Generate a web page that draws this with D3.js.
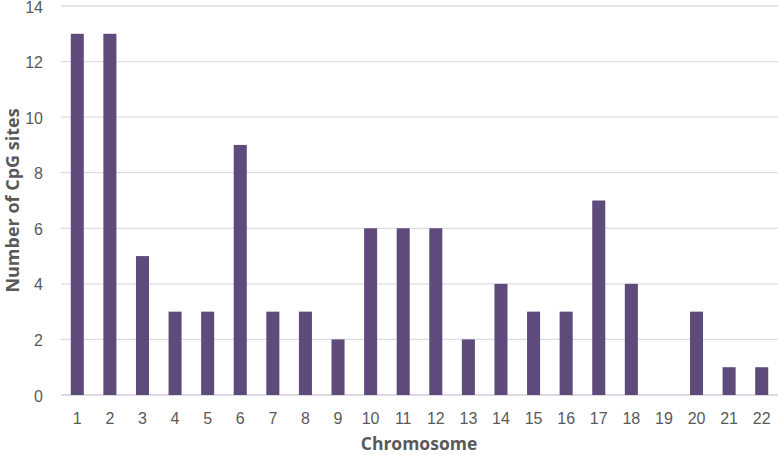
<!DOCTYPE html>
<html><head><meta charset="utf-8">
<script src="https://cdn.jsdelivr.net/npm/d3@7"></script>
<style>body{margin:0;background:#fff;} svg{display:block;font-family:"Open Sans",Lato,sans-serif;}</style>
</head><body><div id="chart"></div>
<script>
const chromosomes = ["1","2","3","4","5","6","7","8","9","10","11","12","13","14","15","16","17","18","19","20","21","22"];
const cpgSites = [13,13,5,3,3,9,3,3,2,6,6,6,2,4,3,3,7,4,0,3,1,1];
const yTicks = [0,2,4,6,8,10,12,14];

const W = 778, H = 455;
const m = {left:61, right:0, top:6, bottom:60};
const svg = d3.select("#chart").append("svg").attr("width",W).attr("height",H);
const x = d3.scaleBand().domain(chromosomes).range([m.left, W-m.right]).paddingInner(0.6).paddingOuter(0.3);
const y = d3.scaleLinear().domain([0,14]).range([H-m.bottom, m.top]);

// gridlines
svg.append("g").selectAll("line").data(yTicks).join("line")
  .attr("x1",m.left).attr("x2",W-m.right)
  .attr("y1",d=>y(d)).attr("y2",d=>y(d))
  .attr("stroke",d=>d===0?"#cfcfdc":"#dcdce4").attr("stroke-width",1.3);

// y labels
const yAxis = d3.axisLeft(y).tickValues(yTicks).tickSize(0).tickPadding(0);
const gy = svg.append("g").attr("transform",`translate(${m.left-18},1)`).call(yAxis);
gy.select(".domain").remove();
gy.selectAll("text").attr("fill","#595959").style("font-size","16px");

// bars
svg.append("g").selectAll("rect").data(cpgSites).join("rect")
  .attr("x",(d,i)=>x(chromosomes[i])).attr("width",x.bandwidth())
  .attr("y",d=>y(d)).attr("height",d=>y(0)-y(d))
  .attr("fill","#5f4a7c");

// x labels
const xAxis = d3.axisBottom(x).tickSize(0).tickPadding(0);
const gx = svg.append("g").attr("transform",`translate(0,${y(0)+18})`).call(xAxis);
gx.select(".domain").remove();
gx.selectAll("text").attr("fill","#595959").style("font-size","16px");

svg.append("text").attr("x",419).attr("y",450)
  .attr("text-anchor","middle").attr("fill","#595959")
  .style("font-size","17.5px").style("font-weight","bold").text("Chromosome");
svg.append("text").attr("transform",`translate(19,${(y(0)+y(14))/2}) rotate(-90)`)
  .attr("text-anchor","middle").attr("fill","#595959")
  .style("font-size","18px").style("font-weight","bold").text("Number of CpG sites");
</script></body></html>
